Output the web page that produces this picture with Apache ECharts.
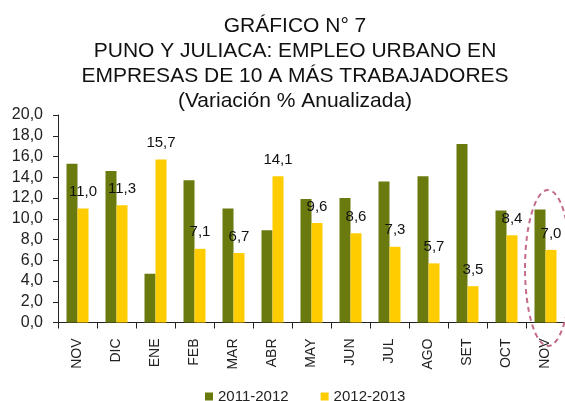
<!DOCTYPE html>
<html>
<head>
<meta charset="utf-8">
<script src="https://cdn.jsdelivr.net/npm/echarts@6/dist/echarts.min.js"></script>
<style>
  html, body { margin: 0; padding: 0; background: #fff; }
  #chart { width: 565px; height: 401px; }
</style>
</head>
<body>
<div id="chart"></div>
<script>
var meses = ['NOV', 'DIC', 'ENE', 'FEB', 'MAR', 'ABR', 'MAY', 'JUN', 'JUL', 'AGO', 'SET', 'OCT', 'NOV'];
var serie2011 = [15.3, 14.6, 4.7, 13.7, 11.0, 8.9, 11.9, 12.0, 13.6, 14.1, 17.2, 10.8, 10.9];
var serie2012 = [11.0, 11.3, 15.7, 7.1, 6.7, 14.1, 9.6, 8.6, 7.3, 5.7, 3.5, 8.4, 7.0];
var nombres = ['2011-2012', '2012-2013'];
var tituloLineas = [
  'GRÁFICO N° 7',
  'PUNO Y JULIACA: EMPLEO URBANO EN',
  'EMPRESAS DE 10 A MÁS TRABAJADORES',
  '(Variación % Anualizada)'
];

function coma(v) {
  return Number(v).toFixed(1).replace('.', ',');
}

var fuente = 'Arial, "Liberation Sans", sans-serif';
var chart = echarts.init(document.getElementById('chart'));

// titulo: una linea de texto por fila, centradas en x=295
var titulo = tituloLineas.map(function (t, i) {
  return {
    type: 'text',
    x: 295,
    y: 26 + i * 25,
    style: {
      text: t,
      textAlign: 'center',
      textVerticalAlign: 'middle',
      fontFamily: fuente,
      fontSize: 21,
      fill: '#111'
    }
  };
});

var option = {
  backgroundColor: '#ffffff',
  animation: false,
  legend: {
    left: 200,
    top: 384,
    icon: 'rect',
    itemWidth: 8,
    itemHeight: 8,
    itemGap: 32,
    textStyle: { fontFamily: fuente, fontSize: 15, color: '#222' },
    data: nombres
  },
  grid: { left: 58, right: -3, top: 115, bottom: 78.5 },
  xAxis: {
    type: 'category',
    data: meses,
    axisLine: { lineStyle: { color: '#222', width: 1 } },
    axisTick: { show: true, length: 6, lineStyle: { color: '#222' } },
    axisLabel: {
      rotate: 90,
      margin: 16,
      interval: 0,
      fontFamily: fuente,
      fontSize: 14,
      color: '#222'
    }
  },
  yAxis: {
    type: 'value',
    min: 0,
    max: 20,
    interval: 2,
    splitLine: { show: false },
    axisLine: { show: true, lineStyle: { color: '#222', width: 1 } },
    axisTick: { show: true, length: 5, lineStyle: { color: '#222' } },
    axisLabel: {
      margin: 15,
      fontFamily: fuente,
      fontSize: 16,
      color: '#222',
      formatter: coma
    }
  },
  series: [
    {
      name: nombres[0],
      type: 'bar',
      data: serie2011,
      barWidth: 11,
      barGap: '0%',
      itemStyle: { color: '#6b7a0e' }
    },
    {
      name: nombres[1],
      type: 'bar',
      data: serie2012,
      barWidth: 11,
      itemStyle: { color: '#ffcc00' },
      label: {
        show: true,
        position: 'top',
        distance: 9,
        fontFamily: fuente,
        fontSize: 15,
        color: '#111',
        formatter: function (p) { return coma(p.value); }
      }
    }
  ],
  graphic: titulo.concat([
    {
      type: 'ellipse',
      shape: { cx: 548, cy: 268, rx: 23, ry: 78 },
      style: {
        fill: 'none',
        stroke: '#c46a8a',
        lineWidth: 2,
        lineDash: [5, 4]
      },
      z: 100
    }
  ])
};

chart.setOption(option);
</script>
</body>
</html>
